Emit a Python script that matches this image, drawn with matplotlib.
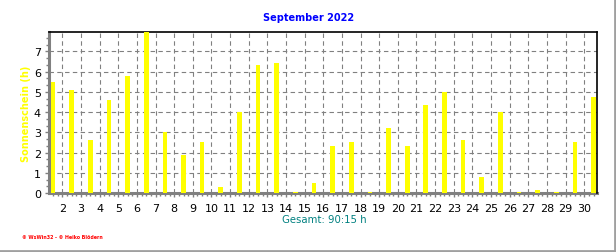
import matplotlib
matplotlib.use("Agg")
import matplotlib.pyplot as plt
from matplotlib.ticker import MultipleLocator, FixedLocator
from matplotlib.lines import Line2D

days = list(range(1, 31))
sunshine = [5.5, 5.1, 2.6, 4.6, 5.8, 7.95, 3.0, 1.9, 2.5, 0.3,
            4.0, 6.3, 6.4, 0.04, 0.5, 2.3, 2.5, 0.04, 3.2, 2.3,
            4.35, 5.0, 2.6, 0.8, 4.0, 0.04, 0.13, 0.04, 2.5, 4.75]
tick_days = list(range(2, 31))
title = "September 2022"
ylabel = "Sonnenschein (h)"
total_text = "Gesamt: 90:15 h"
footer = "\u00a9 WsWin32 - \u00a9 Heiko Bl\u00f6dern"

W, H = 616, 253
fig = plt.figure(figsize=(W / 100, H / 100), dpi=100)
fig.patch.set_facecolor("white")
plt.rcParams['font.family'] = ['DejaVu Sans']

ax = fig.add_axes([49.3 / W, 59 / H, (597.3 - 49.3) / W, (194 - 33.3) / H])
ax.set_facecolor("white")

# bars: day d occupies [d, d+1] in axis units, label k marks start of day k
xs = [d + 0.5 for d in days]
ax.bar(xs, sunshine, width=0.25, color="#ffff00", edgecolor="none", zorder=3, align="center")

ax.set_xlim(1.3, 30.7)
ax.set_ylim(0, 7.94)

ax.xaxis.set_major_locator(FixedLocator(tick_days))
ax.set_xticklabels([str(d) for d in tick_days])
ax.xaxis.set_minor_locator(MultipleLocator(0.25))
ax.yaxis.set_major_locator(MultipleLocator(1))
ax.yaxis.set_minor_locator(MultipleLocator(1 / 3))

ax.grid(True, which="major", color="#808080", linestyle=(0, (4, 3)), linewidth=0.8, zorder=1)

for side in ("top", "right"):
    ax.spines[side].set_color("black")
    ax.spines[side].set_linewidth(1.2)
for side in ("left", "bottom"):
    ax.spines[side].set_color("#808080")
    ax.spines[side].set_linewidth(2.2)
    ax.spines[side].set_zorder(2)

ax.tick_params(axis="both", which="major", length=3, width=1, color="#808080",
               labelsize=8, labelcolor="black", pad=3)
ax.tick_params(axis="both", which="minor", length=2, width=1, color="#808080")
ax.tick_params(axis="x", which="major", pad=4)

ax.set_ylabel(ylabel, color="#ffff00", fontsize=7, fontweight="bold", labelpad=2)

fig.text(309 / W, 1 - 18 / H, title, color="#0000ff", fontsize=7, fontweight="bold",
         ha="center", va="center")
fig.text(324 / W, 1 - 220 / H, total_text, color="#008080", fontsize=7.3,
         ha="center", va="center")
fig.text(22 / W, 1 - 238 / H, footer, color="#ff0000", fontsize=3.4, fontweight="bold",
         ha="left", va="center")

# gray frame at right and bottom edges
fig.add_artist(Line2D([1 - 1.5 / W, 1 - 1.5 / W], [1.5 / H, 1], transform=fig.transFigure,
                      color="#a0a0a0", linewidth=2))
fig.add_artist(Line2D([0, 1], [1.5 / H, 1.5 / H], transform=fig.transFigure,
                      color="#a0a0a0", linewidth=2))

fig.savefig("out.png", dpi=100, facecolor="white")
